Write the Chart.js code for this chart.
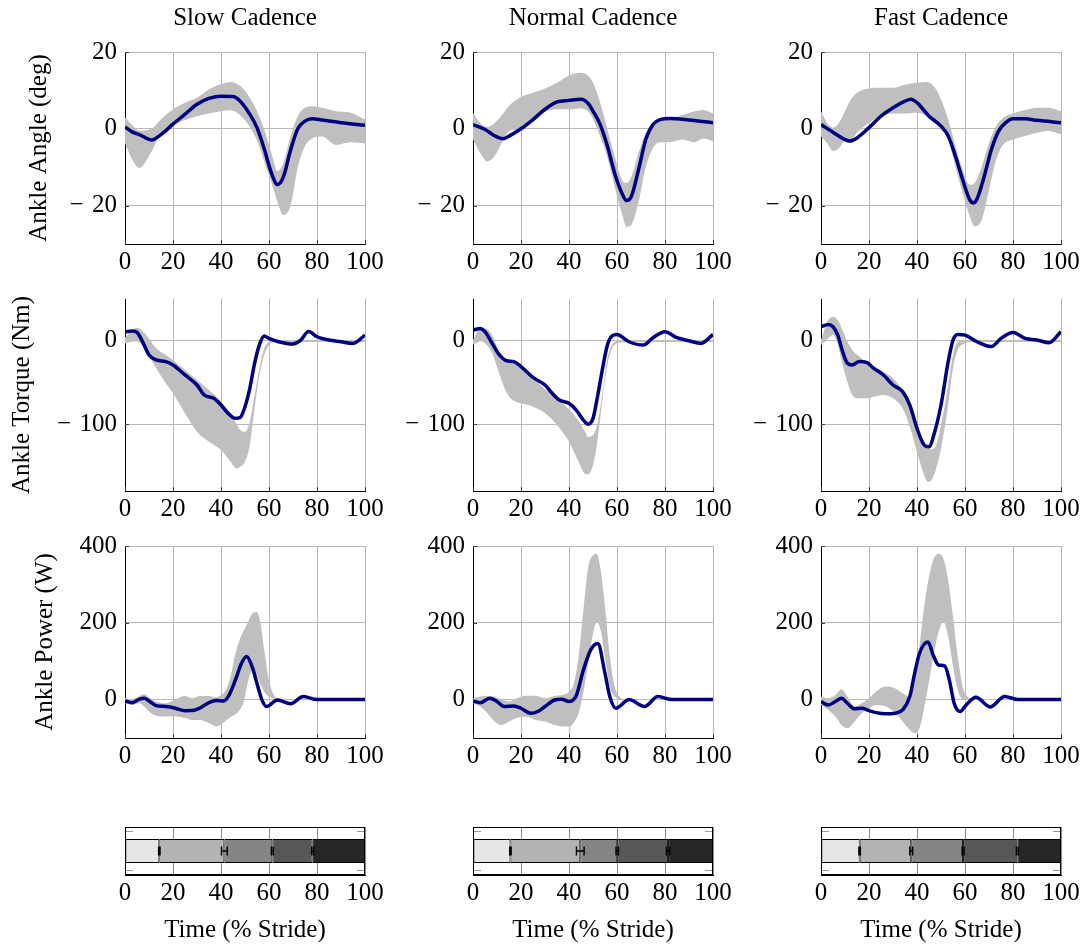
<!DOCTYPE html>
<html>
<head>
<meta charset="utf-8">
<title>Ankle kinematics and kinetics across cadences</title>
<script src="https://cdn.jsdelivr.net/npm/chart.js@4.4.1/dist/chart.umd.min.js"></script>
<style>
  html, body { margin: 0; padding: 0; background: #fff; }
  #fig { position: relative; width: 1086px; height: 947px; overflow: hidden; background: #fff; }
  #fig canvas { position: absolute; }
</style>
</head>
<body>
<div id="fig"></div>
<script>
// ---------- labels ----------
const cadences = ['Slow Cadence', 'Normal Cadence', 'Fast Cadence'];
const rowTitles = ['Ankle Angle (deg)', 'Ankle Torque (Nm)', 'Ankle Power (W)'];
const strideTicks = [0, 20, 40, 60, 80, 100];
const angleTicks = [-20, 0, 20];
const torqueTicks = [-100, 0];
const powerTicks = [0, 200, 400];
const strideTitle = 'Time (% Stride)';

// ---------- ankle angle (deg) ----------
const slowAngleT    = [0, 3, 6, 11, 15, 20, 25, 30, 35, 40, 45, 48, 52, 55, 58, 61, 63.5, 66, 69, 72, 75, 78, 82, 90, 100];
const slowAngleMean = [0.5, -0.8, -1.5, -2.9, -1.5, 1.2, 3.8, 6.4, 7.9, 8.5, 8.4, 7.2, 3.8, 0.3, -5.2, -11.5, -14.5, -12.5, -5.5, 0, 2.0, 2.6, 2.3, 1.6, 0.9];
const slowAngleBandT = [0, 3, 6, 11, 15, 20, 25, 30, 35, 40, 44, 48, 52, 55, 58, 61, 63.5, 66, 69, 72, 75, 78, 82, 88, 94, 100];
const slowAngleHi   = [3, 1, -0.5, 0, 2.5, 5.1, 6.8, 8.1, 10.3, 11.6, 12.2, 11.2, 8.1, 4.6, -0.2, -6.3, -11, -8.9, -1.9, 3.3, 5.5, 5.9, 5.5, 4.6, 4.2, 2.4];
const slowAngleLo   = [-3.7, -8, -10.2, -6, -1, 1.0, 2.3, 3.3, 4.0, 4.6, 4.8, 3.5, 0.5, -3, -8.5, -14, -19, -22.5, -20, -10, -4.5, -2.5, -2, -4.2, -3.5, -3.8];

const normalAngleT    = [0, 5, 9, 12.5, 15, 20, 25, 30, 35, 40, 45, 48, 50, 53, 56, 59, 62, 64, 66, 69, 72, 75, 78, 82, 90, 100];
const normalAngleMean = [1.1, -0.2, -1.8, -2.6, -1.9, 0, 2.4, 5.1, 7.0, 7.4, 7.7, 6.6, 4.6, 1.1, -4.5, -11.5, -16.7, -18.7, -17.6, -10.6, -2.8, 1.1, 2.4, 2.7, 2.3, 1.6];
const normalAngleBandT = [0, 3, 6, 9, 12, 15, 20, 25, 30, 35, 40, 45, 48, 50, 53, 56, 59, 62, 64, 66, 69, 72, 75, 78, 82, 87, 92, 96, 100];
const normalAngleHi   = [4.2, 1.5, 0.5, 1.5, 3.5, 6.0, 8.3, 9.4, 10.5, 12.0, 13.9, 14.6, 13.8, 12.0, 6.8, -0.2, -7.1, -13.2, -14.1, -12.4, -6.3, -1.0, 1.0, 2.0, 2.5, 3.5, 4.5, 4.9, 4.0];
const normalAngleLo   = [-2.8, -6.3, -8.5, -7.1, -3.7, -0.6, -0.2, 2.5, 4.4, 5.1, 5.1, 5.3, 4.5, 2.5, -2, -7.5, -15, -22, -25.5, -25, -19, -10, -5, -3.5, -3.5, -2.8, -3.5, -2.5, -3.2];

const fastAngleT    = [0, 5, 10, 12, 15, 20, 25, 30, 35, 37.5, 40, 45, 50, 53, 56, 59, 62, 63.5, 65, 68, 71, 74, 77, 80, 85, 90, 100];
const fastAngleMean = [1.1, -0.9, -2.8, -3.2, -2.4, 0.3, 3.3, 5.5, 7.2, 7.7, 6.8, 3.3, 0.7, -1.9, -7.1, -13.2, -18.5, -19.3, -18.3, -12.4, -5.4, -0.6, 1.6, 2.6, 2.6, 2.2, 1.6];
const fastAngleBandT = [0, 2.5, 5, 7.5, 10, 12, 15, 20, 25, 30, 35, 40, 44, 47, 50, 53, 56, 59, 62, 64, 67, 70, 73, 76, 80, 85, 90, 95, 100];
const fastAngleHi   = [4.6, 1.6, 0.3, 1.6, 4.6, 7.2, 9.4, 10.5, 10.7, 10.7, 11.5, 12.0, 12.2, 11.1, 7.7, 2.4, -4.5, -10.6, -14.6, -14.1, -9.8, -3.7, 0.7, 2.9, 4.0, 4.9, 5.5, 5.5, 4.6];
const fastAngleLo   = [-2, -3.7, -5.8, -5.0, -3.2, -3.2, -1.0, 1.6, 3.3, 4.0, 4.0, 4.2, 3.3, 2.0, 0.3, -2.8, -9.8, -16.7, -22.8, -25.4, -23.7, -15.9, -8, -4.1, -2.8, -1.9, -1.0, -0.6, -1.5];

// ---------- ankle torque (Nm) ----------
const slowTorqueT    = [0, 3, 5, 7, 10, 13, 17, 20, 25, 30, 33, 37, 40, 43, 46, 48, 50, 52, 54, 56, 58, 60, 64, 70, 73, 76.5, 80, 85, 90, 95, 100];
const slowTorqueMean = [10.8, 11.6, 10, 0.8, -17, -23, -25, -29, -41, -53, -65, -69, -77, -87, -93, -92, -79, -57, -27, -5, 5.6, 2.8, -1.2, -4, 0, 11, 4.8, 0.8, -1.2, -3.2, 6.8];
const slowTorqueBandT = [0, 3, 5, 7, 10, 13, 17, 20, 25, 30, 35, 40, 44, 46.5, 48, 50, 52, 54, 56, 58, 60, 62, 70, 80, 90, 100];
const slowTorqueHi   = [3.6, 12.7, 15.5, 12.7, 2.8, -9, -17, -23, -35, -47, -59, -73, -88, -100, -107, -109, -97, -65, -33, -9, -1, 0, 0.5, 0.5, 0.5, 0.5];
const slowTorqueLo   = [-3.2, -1.2, -1, -5, -19, -33, -51, -63, -87, -109, -121, -131, -145, -153, -151, -145, -125, -81, -41, -17, -5, -1.5, -1.5, -1.5, -1.5, -1.5];

const normalTorqueT    = [0, 3, 5, 8, 11, 14, 17, 20, 25, 30, 33, 36, 40, 43, 46, 48, 50, 52, 54, 56, 58, 60, 65, 71, 75, 80, 85, 90, 95, 100];
const normalTorqueMean = [12.7, 14.7, 10.8, -3.2, -17, -24, -25, -31, -44, -53, -63, -71, -75, -83, -95, -100, -93, -65, -33, -5, 6, 7.6, -1.2, -5.2, 3.6, 10.8, 3.6, 0, -3.2, 7.6];
const normalTorqueBandT = [0, 3, 5, 8, 11, 14, 17, 20, 25, 30, 35, 40, 44, 46.5, 48, 50, 52, 54, 56, 58, 60, 62, 70, 80, 90, 100];
const normalTorqueHi   = [0.8, 14.7, 14.7, 6.8, -14, -22, -27, -33, -45, -58, -70, -82, -96, -108, -115, -113, -97, -61, -21, -5, 0, 0.5, 0.5, 0.5, 0.5, 0.5];
const normalTorqueLo   = [-5, -1, -3, -15, -40, -62, -72, -75, -79, -87, -101, -121, -145, -159, -160, -149, -117, -69, -29, -9, -3, -2, -1.5, -1.5, -1.5, -1.5];

const fastTorqueT    = [0, 3, 5, 7, 9, 11, 13, 16, 19, 22, 26, 30, 34, 37, 40, 43, 45, 47, 50, 53, 55, 57, 60, 65, 71, 75, 80, 85, 90, 95, 100];
const fastTorqueMean = [16.7, 19.5, 16.7, 6.8, -13, -27, -29, -25, -26, -33, -41, -53, -61, -77, -105, -125, -127, -113, -77, -25, 0.8, 7.6, 6.8, -1.2, -7, 2.8, 10, 2.8, 0.8, -2.4, 10.8];
const fastTorqueBandT = [0, 3, 5, 7, 9, 11, 13, 16, 19, 22, 26, 30, 34, 37, 40, 43, 44.5, 46, 48, 50, 53, 55, 57, 60, 62, 70, 80, 90, 100];
const fastTorqueHi   = [0.8, 24.7, 28.7, 24.7, 12.7, -1, -11, -19, -27, -31, -37, -45, -59, -73, -101, -121, -128, -130, -125, -101, -53, -17, -1.2, 0.8, 0.5, 0.5, 0.5, 0.5, 0.5];
const fastTorqueLo   = [-5, 2.8, 6.8, -5, -29, -49, -65, -69, -69, -67, -65, -69, -81, -103, -133, -161, -169, -167, -153, -129, -77, -33, -11, -3, -1.5, -1.5, -1.5, -1.5, -1.5];

// ---------- ankle power (W) ----------
const slowPowerT    = [0, 3, 6, 8, 10, 13, 17, 21, 25, 28, 31, 35, 38, 41, 43, 46, 48.5, 50.7, 53, 55, 57, 59, 63.5, 69, 74.3, 80, 100];
const slowPowerMean = [-3.5, -8, 1, 3.5, -3.5, -15.6, -18, -22.5, -29, -28.6, -22.5, -8, -2.6, -3.5, 7.8, 51, 94, 112, 85, 42, 0, -18, -1, -11, 8, 0, 0];
const slowPowerBandT = [0, 3, 6, 8, 10, 13, 17, 21, 25, 28, 31, 35, 38, 40, 42, 44, 46, 48, 49.5, 51, 53, 55, 56.5, 58, 60, 62, 64, 70, 80, 100];
const slowPowerHi   = [5, 1, 9.5, 14.7, 6, -5, -9.5, 1, 9.5, 3.5, 9.5, 9.5, 6, 12, 25, 60, 120, 160, 180, 198, 224, 228, 198, 130, 51, 12, 3.5, 1, 1, 1];
const slowPowerLo   = [-9.5, -14, -9.5, -18, -31, -42, -44, -44, -48, -53, -53, -61, -70, -65, -55, -45, -38, -25, -5, 40, 75, 60, 40, 20, 8, 2, 0, -1, -1, -1];

const normalPowerT    = [0, 3, 7, 10, 13, 17, 20, 24, 27, 30, 34, 37, 40, 43, 46, 49, 52, 55, 57, 59.5, 65, 71.5, 77, 83, 100];
const normalPowerMean = [-3.5, -8, 3.5, -5, -18, -16.5, -22.5, -35.5, -31, -18, -1, 1, -5, 10, 77, 129, 146, 68, 8, -22.5, 0, -18, 8, 0, 0];
const normalPowerBandT = [0, 3, 6, 9, 12, 15, 18, 22, 26, 30, 34, 38, 40, 42, 44, 46, 48, 50, 51.5, 53, 55, 57, 59, 61, 63, 70, 80, 100];
const normalPowerHi   = [3.5, 8, 10, 8, 0, -5, 3, 10, 10, 3.5, 9.5, 13, 21, 42, 112, 233, 345, 376, 380, 345, 242, 112, 34, 8, 1, 1, 1, 1];
const normalPowerLo   = [-9.5, -18, -35.5, -57, -66, -57, -48.5, -44, -53, -57, -66, -70, -70, -60, -35, 18, 95, 172, 200, 185, 112, 34, 8, 1, 0, -1, -1, -1];

const fastPowerT    = [0, 3, 6, 8.5, 11, 14, 17, 20, 23, 27, 31, 34, 37, 39, 41, 44.5, 47, 49, 51.5, 53.5, 55.5, 58, 60.5, 64.5, 70.5, 76.5, 82, 100];
const fastPowerMean = [-5, -14, -5, 3.5, -9.5, -24, -22.5, -28.6, -34, -37, -35.5, -27, 8, 68, 120, 150, 112, 90, 88, 50, -10, -31, -14, 6, -19, 8, 0.5, 0];
const fastPowerBandT = [0, 3, 6, 8.5, 11, 14, 17, 20, 23, 27, 31, 34, 37, 39, 41, 43, 45, 47, 49, 51, 53, 55, 57, 59, 61, 63, 70, 80, 100];
const fastPowerHi   = [8, 3.5, 12, 27, 8, -18, -9.5, 3.5, 21, 34, 29, 16.5, 8, 51, 138, 242, 320, 367, 380, 367, 311, 216, 112, 34, 8, 1, 1, 1, 1];
const fastPowerLo   = [-14, -27, -44, -66, -74.5, -57, -35.5, -22.5, -14, -18, -35.5, -57, -79, -87, -75, -22, 47, 120, 177, 202, 164, 86, 25, 1, 0, 0, -1, -1, -1];

// ---------- gait phase transitions (% stride, mean and SD) ----------
const slowPhase     = [14.3, 41.4, 61.4, 78.2];
const slowPhaseSd   = [0.3, 1.2, 0.4, 0.4];
const normalPhase   = [15.6, 44.7, 60.1, 81.3];
const normalPhaseSd = [0.3, 1.6, 0.5, 0.7];
const fastPhase     = [16.1, 37.6, 59.2, 81.8];
const fastPhaseSd   = [0.3, 0.6, 0.4, 0.4];
const phaseShades   = ['#e6e6e6', '#b3b3b3', '#858585', '#575757', '#262626'];

// ---------- look ----------
const FONT = '"Liberation Serif", "Times New Roman", Times, serif';
Chart.defaults.font.family = FONT;
Chart.defaults.font.size = 25;
Chart.defaults.color = '#000';

const MEAN_COLOR = '#000080';
const BAND_COLOR = '#bfbfbf';
const GRID = '#b8b8b8';

const colLeft = [125, 473, 821];
const plotW = 240;
const rowTop = [52, 299, 546];
const plotH = 192;
const PAD = { l: 120, t: 55, r: 40, b: 45 };
const barTop = 827, barH = 48, barPadT = 20, barAxisH = 75;

const axes = [
  { min: -30,  max: 20,  ticks: angleTicks,  title: rowTitles[0], titlePad: 19 },
  { min: -180, max: 50,  ticks: torqueTicks, title: rowTitles[1], titlePad: 2 },
  { min: -100, max: 400, ticks: powerTicks,  title: rowTitles[2], titlePad: 25 }
];

const panels = [
  [ { t: slowAngleT, mean: slowAngleMean, bandT: slowAngleBandT, hi: slowAngleHi, lo: slowAngleLo },
    { t: normalAngleT, mean: normalAngleMean, bandT: normalAngleBandT, hi: normalAngleHi, lo: normalAngleLo },
    { t: fastAngleT, mean: fastAngleMean, bandT: fastAngleBandT, hi: fastAngleHi, lo: fastAngleLo } ],
  [ { t: slowTorqueT, mean: slowTorqueMean, bandT: slowTorqueBandT, hi: slowTorqueHi, lo: slowTorqueLo },
    { t: normalTorqueT, mean: normalTorqueMean, bandT: normalTorqueBandT, hi: normalTorqueHi, lo: normalTorqueLo },
    { t: fastTorqueT, mean: fastTorqueMean, bandT: fastTorqueBandT, hi: fastTorqueHi, lo: fastTorqueLo } ],
  [ { t: slowPowerT, mean: slowPowerMean, bandT: slowPowerBandT, hi: slowPowerHi, lo: slowPowerLo },
    { t: normalPowerT, mean: normalPowerMean, bandT: normalPowerBandT, hi: normalPowerHi, lo: normalPowerLo },
    { t: fastPowerT, mean: fastPowerMean, bandT: fastPowerBandT, hi: fastPowerHi, lo: fastPowerLo } ]
];
const phases = [ [slowPhase, slowPhaseSd], [normalPhase, normalPhaseSd], [fastPhase, fastPhaseSd] ];

// ---------- helpers ----------
const pts = (xs, ys) => xs.map((x, i) => ({ x: x, y: ys[i] }));
const fmt = v => (v < 0 ? '\u2212\u2004' + Math.abs(v) : String(v));

function addCanvas(x, y, w, h) {
  const c = document.createElement('canvas');
  c.width = w; c.height = h;
  c.style.left = x + 'px'; c.style.top = y + 'px';
  c.style.width = w + 'px'; c.style.height = h + 'px';
  document.getElementById('fig').appendChild(c);
  return c;
}

// short inward tick marks and the column heading
const panelDecor = {
  id: 'panelDecor',
  beforeDatasetsDraw(chart) {
    const { ctx, chartArea: a, scales } = chart;
    ctx.save();
    ctx.strokeStyle = '#404040';
    ctx.lineWidth = 1;
    scales.y.ticks.forEach(t => {
      const p = Math.round(scales.y.getPixelForValue(t.value)) + 0.5;
      ctx.beginPath(); ctx.moveTo(a.left, p); ctx.lineTo(a.left + 4, p); ctx.stroke();
    });
    scales.x.ticks.forEach(t => {
      const p = Math.round(scales.x.getPixelForValue(t.value)) + 0.5;
      ctx.beginPath(); ctx.moveTo(p, a.bottom); ctx.lineTo(p, a.bottom - 4); ctx.stroke();
    });
    ctx.restore();
  },
  afterDraw(chart, args, opts) {
    if (!opts.title) return;
    const { ctx, chartArea: a } = chart;
    ctx.save();
    ctx.font = '25px ' + FONT;
    ctx.fillStyle = '#000';
    ctx.textAlign = 'center';
    ctx.textBaseline = 'middle';
    ctx.fillText(opts.title, (a.left + a.right) / 2, a.top - 34);
    ctx.restore();
  }
};

// frame, edge ticks and transition error bars of the phase strip
const phaseDecor = {
  id: 'phaseDecor',
  afterDatasetsDraw(chart, args, opts) {
    const { ctx, chartArea: a, scales } = chart;
    const xs = scales.x;
    const yc = (a.top + a.bottom) / 2;
    ctx.save();
    // edge ticks
    ctx.strokeStyle = '#9a9a9a';
    ctx.lineWidth = 1;
    [a.top + 4.5, a.bottom - 4.5].forEach(y => {
      ctx.beginPath(); ctx.moveTo(a.left, y); ctx.lineTo(a.left + 8, y); ctx.stroke();
      ctx.beginPath(); ctx.moveTo(a.right, y); ctx.lineTo(a.right - 8, y); ctx.stroke();
    });
    // error bars
    ctx.strokeStyle = '#000';
    ctx.lineWidth = 1.4;
    opts.bounds.forEach((b, i) => {
      const x1 = xs.getPixelForValue(b - opts.sds[i]);
      const x2 = xs.getPixelForValue(b + opts.sds[i]);
      ctx.beginPath();
      ctx.moveTo(x1, yc); ctx.lineTo(x2, yc);
      ctx.moveTo(x1, yc - 4.5); ctx.lineTo(x1, yc + 4.5);
      ctx.moveTo(x2, yc - 4.5); ctx.lineTo(x2, yc + 4.5);
      ctx.stroke();
    });
    // frame
    ctx.lineWidth = 1;
    ctx.strokeRect(Math.round(a.left) + 0.5, Math.round(a.top) + 0.5,
                   Math.round(a.right - a.left) - 1, Math.round(a.bottom - a.top) - 1);
    ctx.restore();
  }
};

function linePanel(row, col) {
  const p = panels[row][col];
  const ax = axes[row];
  const cv = addCanvas(colLeft[col] - PAD.l, rowTop[row] - PAD.t,
                       PAD.l + plotW + PAD.r, PAD.t + plotH + PAD.b);
  new Chart(cv, {
    type: 'line',
    data: {
      datasets: [
        { data: pts(p.t, p.mean), borderColor: MEAN_COLOR, borderWidth: 3.5, pointRadius: 0,
          cubicInterpolationMode: 'monotone', fill: false },
        { data: pts(p.bandT, p.hi), borderWidth: 0, borderColor: 'rgba(0,0,0,0)', backgroundColor: BAND_COLOR,
          pointRadius: 0, cubicInterpolationMode: 'monotone', fill: '+1' },
        { data: pts(p.bandT, p.lo), borderWidth: 0, borderColor: 'rgba(0,0,0,0)',
          pointRadius: 0, cubicInterpolationMode: 'monotone', fill: false }
      ]
    },
    options: {
      responsive: false, animation: false, events: [],
      layout: { padding: { left: 0, top: PAD.t, right: PAD.r, bottom: 0 } },
      plugins: {
        legend: { display: false }, tooltip: { enabled: false },
        panelDecor: { title: row === 0 ? cadences[col] : null }
      },
      scales: {
        x: {
          type: 'linear', min: 0, max: 100,
          afterBuildTicks: s => { s.ticks = strideTicks.map(v => ({ value: v })); },
          ticks: { padding: 3, maxRotation: 0, autoSkip: false, callback: fmt },
          grid: { color: GRID, drawTicks: false },
          border: { color: '#000', width: 1 },
          afterFit: s => { s.height = PAD.b; }
        },
        y: {
          type: 'linear', min: ax.min, max: ax.max,
          afterBuildTicks: s => { s.ticks = ax.ticks.map(v => ({ value: v })); },
          ticks: { padding: 8, autoSkip: false, callback: fmt },
          grid: { color: GRID, drawTicks: false },
          border: { color: '#000', width: 1 },
          title: { display: col === 0, text: ax.title, padding: { top: ax.titlePad, bottom: 0 } },
          afterFit: s => { s.width = PAD.l; }
        }
      }
    },
    plugins: [panelDecor]
  });
}

function phasePanel(col) {
  const [bounds, sds] = phases[col];
  const edges = [0].concat(bounds, [100]);
  const widths = edges.slice(1).map((e, i) => +(e - edges[i]).toFixed(2));
  const cv = addCanvas(colLeft[col] - PAD.l, barTop - barPadT,
                       PAD.l + plotW + PAD.r, barPadT + barH + barAxisH);
  new Chart(cv, {
    type: 'bar',
    data: {
      labels: ['stride'],
      datasets: widths.map((w, i) => ({
        data: [w], backgroundColor: phaseShades[i], borderColor: '#000', borderWidth: 1,
        borderSkipped: false, barPercentage: 0.5, categoryPercentage: 1
      }))
    },
    options: {
      indexAxis: 'y', responsive: false, animation: false, events: [],
      layout: { padding: { left: 0, top: barPadT, right: PAD.r, bottom: 0 } },
      plugins: { legend: { display: false }, tooltip: { enabled: false }, phaseDecor: { bounds: bounds, sds: sds } },
      scales: {
        x: {
          type: 'linear', stacked: true, min: 0, max: 100,
          afterBuildTicks: s => { s.ticks = strideTicks.map(v => ({ value: v })); },
          ticks: { padding: 3, maxRotation: 0, autoSkip: false },
          grid: { color: '#8a8a8a', drawTicks: false },
          border: { color: '#000', width: 1 },
          title: { display: true, text: strideTitle, padding: { top: 0, bottom: 5 } },
          afterFit: s => { s.height = barAxisH; }
        },
        y: {
          stacked: true,
          ticks: { display: false },
          grid: { display: false },
          border: { color: '#000', width: 1 },
          afterFit: s => { s.width = PAD.l; }
        }
      }
    },
    plugins: [phaseDecor]
  });
}

for (let r = 0; r < 3; r++) for (let c = 0; c < 3; c++) linePanel(r, c);
for (let c = 0; c < 3; c++) phasePanel(c);
</script>
</body>
</html>
